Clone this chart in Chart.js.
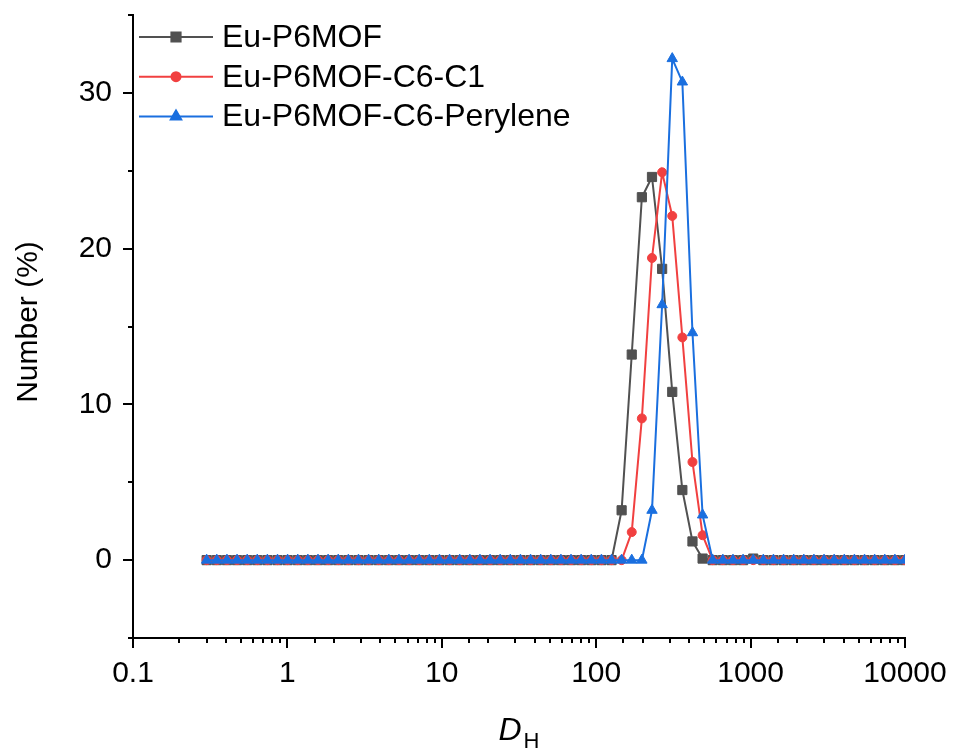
<!DOCTYPE html>
<html>
<head>
<meta charset="utf-8">
<script src="https://cdn.jsdelivr.net/npm/chart.js@4/dist/chart.umd.min.js"></script>
<style>
  html, body { margin: 0; padding: 0; background: #fff; }
  #wrap { width: 953px; height: 751px; position: relative; }
</style>
</head>
<body>
<div id="wrap"><canvas id="dlsChart"></canvas></div>
<script>
// hydrodynamic diameter bins (nm)
const sizes = [
  0.300, 0.349, 0.406, 0.472, 0.549, 0.638, 0.742, 0.863, 1.003, 1.167,
  1.357, 1.578, 1.835, 2.134, 2.482, 2.886, 3.357, 3.904, 4.539, 5.279,
  6.140, 7.139, 8.303, 9.656, 11.23, 13.06, 15.19, 17.66, 20.54, 23.88,
  27.77, 32.30, 37.56, 43.68, 50.80, 59.08, 68.70, 79.90, 92.91, 108.1,
  125.7, 146.1, 169.9, 197.6, 229.8, 267.3, 310.8, 361.4, 420.3, 488.8,
  568.4, 661.1, 768.8, 894.0, 1040, 1209, 1406, 1635, 1901, 2211,
  2571, 2990, 3477, 4044, 4702, 5469, 6360, 7396, 8601, 10000
];

const seriesNames = ['Eu-P6MOF', 'Eu-P6MOF-C6-C1', 'Eu-P6MOF-C6-Perylene'];

const p6mof = [
  0, 0, 0, 0, 0, 0, 0, 0, 0, 0,
  0, 0, 0, 0, 0, 0, 0, 0, 0, 0,
  0, 0, 0, 0, 0, 0, 0, 0, 0, 0,
  0, 0, 0, 0, 0, 0, 0, 0, 0, 0,
  0, 3.2, 13.2, 23.3, 24.6, 18.7, 10.8, 4.5, 1.2, 0.1,
  0, 0, 0, 0, 0.1, 0, 0, 0, 0, 0,
  0, 0, 0, 0, 0, 0, 0, 0, 0, 0
];

const c6c1 = [
  0, 0, 0, 0, 0, 0, 0, 0, 0, 0,
  0, 0, 0, 0, 0, 0, 0, 0, 0, 0,
  0, 0, 0, 0, 0, 0, 0, 0, 0, 0,
  0, 0, 0, 0, 0, 0, 0, 0, 0, 0,
  0, 0, 1.8, 9.1, 19.4, 24.9, 22.1, 14.3, 6.3, 1.6,
  0, 0, 0, 0, 0, 0, 0, 0, 0, 0,
  0, 0, 0, 0, 0, 0, 0, 0, 0, 0
];

const c6perylene = [
  0, 0, 0, 0, 0, 0, 0, 0, 0, 0,
  0, 0, 0, 0, 0, 0, 0, 0, 0, 0,
  0, 0, 0, 0, 0, 0, 0, 0, 0, 0,
  0, 0, 0, 0, 0, 0, 0, 0, 0, 0,
  0, 0, 0, 0, 3.2, 16.4, 32.2, 30.7, 14.6, 2.9,
  0, 0, 0, 0, 0, 0, 0, 0, 0, 0,
  0, 0, 0, 0, 0, 0, 0, 0, 0, 0
];

const xTickLabels = ['0.1', '1', '10', '100', '1000', '10000'];
const yTickLabels = [0, 10, 20, 30];

const colors = ['#515151', '#F14040', '#1A6FDF'];
const markers = [
  { style: 'rect', radius: 6.5 },
  { style: 'circle', radius: 4.5 },
  { style: 'triangle', radius: 6 },
];
const FONT = '"Liberation Sans", Arial, sans-serif';

function toPoints(values) {
  return sizes.map((x, i) => ({ x, y: values[i] }));
}

const allSeries = [p6mof, c6c1, c6perylene];
const datasets = allSeries.map((values, i) => ({
  label: seriesNames[i],
  data: toPoints(values),
  borderColor: colors[i],
  backgroundColor: colors[i],
  borderWidth: 2,
  pointStyle: markers[i].style,
  pointRadius: markers[i].radius,
  pointBorderWidth: 1,
  pointBorderColor: colors[i],
  pointBackgroundColor: colors[i],
  tension: 0,
  order: 3 - i,
}));

function isPow10(v) {
  const l = Math.log10(v);
  return Math.abs(l - Math.round(l)) < 1e-6;
}

// tick marks, legend and axis titles
const decorations = {
  id: 'decorations',
  afterDraw(chart) {
    const { ctx, chartArea, scales } = chart;
    const xs = scales.x;
    const ys = scales.y;
    ctx.save();
    ctx.strokeStyle = '#000';
    ctx.lineWidth = 2;
    ctx.beginPath();
    xs.ticks.forEach((t) => {
      const px = Math.round(xs.getPixelForValue(t.value));
      const len = isPow10(t.value) ? 10 : 5;
      ctx.moveTo(px, chartArea.bottom);
      ctx.lineTo(px, chartArea.bottom + len);
    });
    ys.ticks.forEach((t) => {
      const py = Math.round(ys.getPixelForValue(t.value));
      const len = t.value % 10 === 0 ? 10 : 5;
      ctx.moveTo(chartArea.left, py);
      ctx.lineTo(chartArea.left - len, py);
    });
    ctx.stroke();

    // legend
    chart.data.datasets.forEach((ds, i) => {
      const y = 37 + i * 39.7;
      ctx.strokeStyle = ds.borderColor;
      ctx.lineWidth = 2;
      ctx.beginPath();
      ctx.moveTo(139, y);
      ctx.lineTo(213, y);
      ctx.stroke();
      ctx.fillStyle = ds.borderColor;
      Chart.helpers.drawPoint(ctx, {
        pointStyle: ds.pointStyle,
        radius: ds.pointRadius,
        rotation: 0,
        borderWidth: 1,
      }, 176, y);
      ctx.fillStyle = '#000';
      ctx.font = `32px ${FONT}`;
      ctx.textAlign = 'left';
      ctx.textBaseline = 'middle';
      ctx.fillText(ds.label, 222, y + 1);
    });

    // y title
    ctx.fillStyle = '#000';
    ctx.save();
    ctx.translate(29, 322);
    ctx.rotate(-Math.PI / 2);
    ctx.font = `30px ${FONT}`;
    ctx.textAlign = 'center';
    ctx.textBaseline = 'middle';
    ctx.fillText('Number (%)', 0, 0);
    ctx.restore();

    // x title: D with subscript H
    ctx.textAlign = 'left';
    ctx.textBaseline = 'alphabetic';
    ctx.font = `italic 32px ${FONT}`;
    const wD = ctx.measureText('D').width;
    ctx.font = `22px ${FONT}`;
    const wH = ctx.measureText('H').width;
    const x0 = (chartArea.left + chartArea.right) / 2 - (wD + wH + 2) / 2;
    ctx.font = `italic 32px ${FONT}`;
    ctx.fillText('D', x0, 740);
    ctx.font = `22px ${FONT}`;
    ctx.fillText('H', x0 + wD + 2, 748);
    ctx.restore();
  },
};

const ctx = document.getElementById('dlsChart').getContext('2d');
new Chart(ctx, {
  type: 'line',
  data: { datasets },
  plugins: [decorations],
  options: {
    responsive: true,
    maintainAspectRatio: false,
    animation: false,
    layout: { padding: { top: 15, right: 48, bottom: 0, left: 0 } },
    plugins: {
      legend: { display: false },
      tooltip: { enabled: false },
    },
    scales: {
      x: {
        type: 'logarithmic',
        min: 0.1,
        max: 10000,
        afterFit: (scale) => {
          scale.height = 113;
          scale.paddingLeft = 0;
          scale.paddingRight = 0;
        },
        border: { display: true, color: '#000', width: 2 },
        grid: { display: false, drawTicks: true, tickLength: 10 },
        ticks: {
          autoSkip: false,
          maxRotation: 0,
          padding: 8,
          color: '#000',
          font: { family: FONT, size: 30 },
          callback: (v) => {
            if (!isPow10(v)) return '';
            const label = String(Number(v.toPrecision(6)));
            return xTickLabels.includes(label) ? label : '';
          },
        },
      },
      y: {
        min: -5,
        max: 35,
        afterFit: (scale) => {
          scale.width = 133;
          scale.paddingTop = 0;
          scale.paddingBottom = 0;
        },
        border: { display: true, color: '#000', width: 2 },
        grid: { display: false, drawTicks: true, tickLength: 10 },
        ticks: {
          stepSize: 5,
          autoSkip: false,
          padding: 11,
          color: '#000',
          font: { family: FONT, size: 30 },
          callback: (v) => (yTickLabels.includes(v) ? String(v) : ''),
        },
      },
    },
  },
});
</script>
</body>
</html>
